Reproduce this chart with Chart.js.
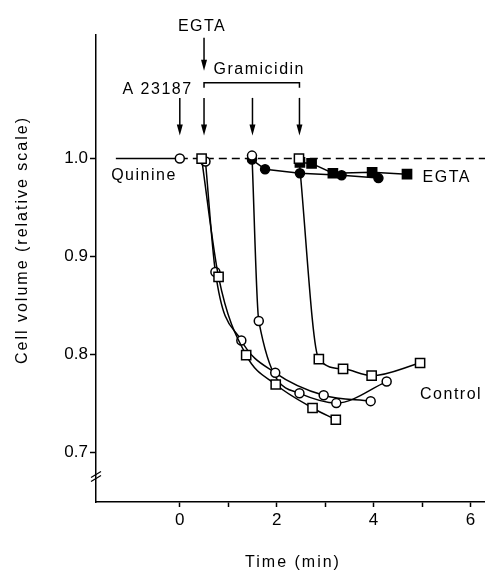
<!DOCTYPE html>
<html>
<head>
<meta charset="utf-8">
<script src="https://cdn.jsdelivr.net/npm/chart.js@4"></script>
<style>
  html, body { margin: 0; padding: 0; background: #fff; }
  #wrap { width: 485px; height: 572px; }
</style>
</head>
<body>
<div id="wrap"><canvas id="volumeChart" width="485" height="572"></canvas></div>
<script>
// time (min) and relative cell volume
const quinineT = [-1.32, 0];
const quinineV = [1.0, 1.0];

const refLineT = [0, 6.3];
const refLineV = [1.0, 1.0];

// control, gramicidin at 0.5 min (squares)
const ctrlSq1T = [0.45, 0.80, 1.37, 1.98, 2.74, 3.22];
const ctrlSq1V = [1.0, 0.879, 0.799, 0.769, 0.745, 0.733];

// control, gramicidin at 0.5 min (circles)
const ctrlCi1T = [0.53, 0.735, 1.27, 1.97, 2.97, 3.94];
const ctrlCi1V = [0.997, 0.884, 0.814, 0.781, 0.758, 0.752];

// control, gramicidin at 1.5 min (circles)
const ctrlCi2T = [1.49, 1.63, 2.47, 3.23, 4.27];
const ctrlCi2V = [1.003, 0.834, 0.760, 0.750, 0.772];

// control, gramicidin at 2.5 min (squares)
const ctrlSq2T = [2.46, 2.87, 3.37, 3.96, 4.96];
const ctrlSq2V = [1.0, 0.795, 0.785, 0.778, 0.791];

// EGTA, filled circles and filled squares
const egtaCiT = [1.49, 1.76, 2.48, 3.34, 4.10];
const egtaCiV = [0.999, 0.989, 0.985, 0.983, 0.980];
const egtaSqT = [2.48, 2.72, 3.16, 3.97, 4.69];
const egtaSqV = [0.996, 0.995, 0.985, 0.986, 0.984];

const xTicks = [0, 1, 2, 3, 4, 5, 6];
const yTicks = [0.7, 0.8, 0.9, 1.0];

const arrowTimes = [0, 0.5, 1.5, 2.47];
const xTitle = 'Time (min)';
const yTitle = 'Cell volume (relative scale)';

const FONT = '"Liberation Sans", Arial, sans-serif';

function pts(ts, vs) {
    return ts.map((t, i) => ({ x: t, y: vs[i] }));
}

function series(ts, vs, style, filled, smooth) {
    return {
        data: pts(ts, vs),
        borderColor: '#000',
        borderWidth: 1.5,
        pointStyle: style,
        pointRadius: style === 'rect' ? 6.5 : 4.5,
        pointBorderWidth: 1.5,
        pointBorderColor: '#000',
        pointBackgroundColor: filled ? '#000' : '#fff',
        cubicInterpolationMode: smooth ? 'monotone' : 'default',
        tension: 0,
        clip: false,
        order: 1
    };
}

function arrow(ctx, x, yTop, yTip) {
    const head = 11;
    ctx.beginPath();
    ctx.moveTo(x, yTop);
    ctx.lineTo(x, yTip - head + 2);
    ctx.stroke();
    ctx.beginPath();
    ctx.moveTo(x, yTip);
    ctx.lineTo(x - 3, yTip - head);
    ctx.lineTo(x + 3, yTip - head);
    ctx.closePath();
    ctx.fill();
}

function label(ctx, text, x, y) {
    ctx.fillText(text, x, y);
}

const annotate = {
    id: 'annotate',
    afterDraw(chart) {
        const { ctx } = chart;
        const x = chart.scales.x, y = chart.scales.y;
        ctx.save();
        ctx.strokeStyle = '#000';
        ctx.fillStyle = '#000';
        ctx.lineWidth = 1.5;

        // addition arrows
        arrowTimes.forEach(t => arrow(ctx, x.getPixelForValue(t), y.getPixelForValue(1.062), y.getPixelForValue(1.0235)));
        arrow(ctx, x.getPixelForValue(0.5), y.getPixelForValue(1.1235), y.getPixelForValue(1.0898));

        // gramicidin bracket
        const bx1 = x.getPixelForValue(0.5), bx2 = x.getPixelForValue(2.47);
        const by = y.getPixelForValue(1.0775), byEnd = y.getPixelForValue(1.0725);
        ctx.beginPath();
        ctx.moveTo(bx1, byEnd);
        ctx.lineTo(bx1, by);
        ctx.lineTo(bx2, by);
        ctx.lineTo(bx2, byEnd);
        ctx.stroke();

        // axis break on y
        const ax = chart.chartArea.left, ay = y.getPixelForValue(0.675);
        ctx.lineWidth = 1.2;
        [-2, 2].forEach(d => {
            ctx.beginPath();
            ctx.moveTo(ax - 5, ay + 3 + d);
            ctx.lineTo(ax + 5, ay - 3 + d);
            ctx.stroke();
        });

        // text labels
        ctx.font = '16px ' + FONT;
        ctx.letterSpacing = '1.5px';
        ctx.textAlign = 'center';
        ctx.textBaseline = 'middle';
        label(ctx, 'EGTA', x.getPixelForValue(0.46), y.getPixelForValue(1.1347));
        label(ctx, 'Gramicidin', x.getPixelForValue(1.64), y.getPixelForValue(1.0913));
        label(ctx, 'A 23187', x.getPixelForValue(-0.46), y.getPixelForValue(1.0709));
        label(ctx, 'Quinine', x.getPixelForValue(-0.74), y.getPixelForValue(0.9827));
        label(ctx, 'EGTA', x.getPixelForValue(5.51), y.getPixelForValue(0.981));
        label(ctx, 'Control', x.getPixelForValue(5.6), y.getPixelForValue(0.7582));

        // axis titles
        ctx.letterSpacing = '2px';
        label(ctx, xTitle, 293, 563);
        ctx.translate(23, 240);
        ctx.rotate(-Math.PI / 2);
        label(ctx, yTitle, 0, 0);
        ctx.restore();
    }
};

const tickFont = { family: FONT, size: 17 };

new Chart(document.getElementById('volumeChart'), {
    type: 'line',
    data: {
        datasets: [
            Object.assign(series(quinineT, quinineV, 'circle', false, false), {
                pointRadius: ctx => ctx.dataIndex === 0 ? 0 : 4.5
            }),
            Object.assign(series(refLineT, refLineV, 'circle', false, false), {
                pointRadius: 0,
                borderDash: [8, 5],
                order: 10
            }),
            series(ctrlSq1T, ctrlSq1V, 'rect', false, true),
            series(ctrlCi1T, ctrlCi1V, 'circle', false, true),
            series(ctrlCi2T, ctrlCi2V, 'circle', false, true),
            series(ctrlSq2T, ctrlSq2V, 'rect', false, true),
            series(egtaCiT, egtaCiV, 'circle', true, false),
            series(egtaSqT, egtaSqV, 'rect', true, false)
        ]
    },
    options: {
        responsive: false,
        animation: false,
        events: [],
        layout: { autoPadding: false, padding: { top: 35, right: 0, left: 0, bottom: 0 } },
        plugins: {
            legend: { display: false },
            tooltip: { enabled: false }
        },
        scales: {
            x: {
                type: 'linear',
                min: -1.73,
                max: 6.3,
                afterFit: s => { s.height = 70; },
                afterBuildTicks: s => { s.ticks = xTicks.map(v => ({ value: v })); },
                border: { color: '#000', width: 1.5 },
                grid: { drawOnChartArea: false, color: '#000', tickLength: 5, tickWidth: 1.5 },
                ticks: {
                    color: '#000',
                    font: tickFont,
                    padding: 3,
                    maxRotation: 0,
                    callback: v => v % 2 === 0 ? String(v) : ''
                }
            },
            y: {
                min: 0.6489,
                max: 1.1263,
                afterFit: s => { s.width = 96; },
                afterBuildTicks: s => { s.ticks = yTicks.map(v => ({ value: v })); },
                border: { color: '#000', width: 1.5 },
                grid: { drawOnChartArea: false, color: '#000', tickLength: 6, tickWidth: 1.5 },
                ticks: {
                    color: '#000',
                    font: tickFont,
                    padding: 2,
                    callback: v => v.toFixed(1)
                }
            }
        }
    },
    plugins: [annotate]
});
</script>
</body>
</html>
